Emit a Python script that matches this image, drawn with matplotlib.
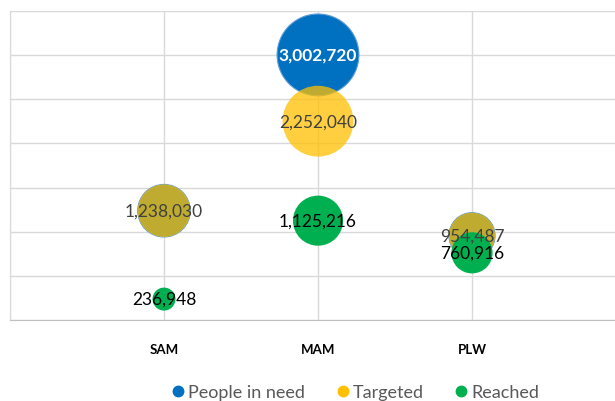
import matplotlib
matplotlib.use('Agg')
import matplotlib.pyplot as plt
from matplotlib.lines import Line2D

plt.rcParams['font.family'] = ['Lato', 'DejaVu Sans']

# Datos
categorias = ['SAM', 'MAM', 'PLW']
people_in_need = [1238030, 3002720, 954487]
targeted = [1238030, 2252040, 954487]
reached = [236948, 1125216, 760916]

x = [1, 2, 3]

def tam(v):
    # area proporcional al valor
    return [val / 1e6 * 1155 for val in v]

fig = plt.figure(figsize=(6.15, 4.02), dpi=100)
ax = fig.add_axes([10 / 615, 81 / 402, 616 / 615, 309 / 402])

ax.scatter(x, people_in_need, s=tam(people_in_need), color='#0070C0',
           edgecolors='#5B9BD5', linewidths=0.8, zorder=3)
ax.scatter(x, targeted, s=tam(targeted), color='#FFC000', alpha=0.75,
           linewidths=0, zorder=4)
ax.scatter(x, reached, s=tam(reached), color='#00B050', linewidths=0, zorder=5)

# Etiquetas
ax.text(x[1], people_in_need[1], f'{people_in_need[1]:,}', ha='center', va='center',
        color='white', fontsize=12.5, fontweight='bold', zorder=6)
for i in range(3):
    ax.text(x[i], targeted[i], f'{targeted[i]:,}', ha='center', va='center',
            color='#404040', fontsize=12.5, zorder=6)
    ax.text(x[i], reached[i], f'{reached[i]:,}', ha='center', va='center',
            color='black', fontsize=12.5, zorder=6)

ax.set_xlim(0, 4)
ax.set_ylim(0, 3500000)
ax.set_yticks(range(0, 3500001, 500000))
ax.set_xticks(range(0, 5))
ax.grid(True, color='#D9D9D9', linewidth=1)
ax.set_axisbelow(True)
ax.tick_params(length=0, labelleft=False, labelbottom=False)
for s in ['top', 'right']:
    ax.spines[s].set_visible(False)
ax.spines['left'].set_color('#D9D9D9')
ax.spines['bottom'].set_color('#BFBFBF')

for i, c in enumerate(categorias):
    ax.text(x[i], -0.095, c, transform=ax.get_xaxis_transform(), ha='center',
            va='center', fontsize=9.5, fontweight='bold', color='black')

handles = [Line2D([], [], marker='o', linestyle='', color=c, markersize=7.5)
           for c in ['#0070C0', '#FFC000', '#00B050']]
fig.legend(handles, ['People in need', 'Targeted', 'Reached'], loc='center',
           bbox_to_anchor=(354 / 615, 1 - 393 / 402), ncol=3, frameon=False,
           fontsize=13, labelcolor='#595959', handletextpad=0.05,
           columnspacing=1.6, handlelength=1)

plt.savefig('out.png', dpi=100)
